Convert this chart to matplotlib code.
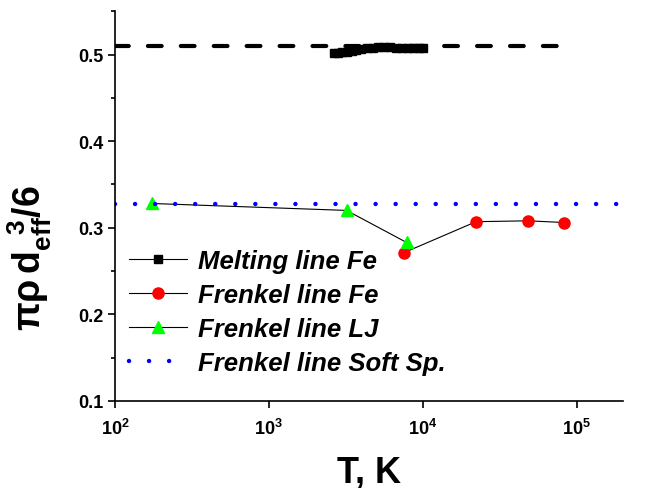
import matplotlib.pyplot as plt
import matplotlib.ticker as mticker

plt.rcParams['font.family'] = ['Liberation Sans', 'DejaVu Sans']
plt.rcParams['mathtext.fontset'] = 'custom'
plt.rcParams['mathtext.rm'] = 'Liberation Sans:bold'
plt.rcParams['mathtext.bf'] = 'Liberation Sans:bold'
plt.rcParams['mathtext.it'] = 'Liberation Sans:bold'

# melting line of Fe (simulation points) and its average level
melt_T = [2650, 2800, 3000, 3200, 3450, 3700, 4000, 4350, 4750, 5150, 5600,
          6100, 6700, 7300, 8000, 8700, 9400, 10100]
melt_y = [0.502, 0.502, 0.503, 0.503, 0.504, 0.505, 0.506, 0.507, 0.508, 0.509,
          0.509, 0.509, 0.508, 0.508, 0.508, 0.507, 0.507, 0.507]
melt_level = 0.51
melt_level_T = [100, 80000]

# Frenkel line Fe
fe_T = [7500, 22200, 48500, 83000]
fe_y = [0.271, 0.307, 0.308, 0.306]

# Frenkel line LJ
lj_T = [175, 3200, 7850]
lj_y = [0.328, 0.320, 0.283]

# Frenkel line soft spheres
soft_level = 0.327
soft_T = [100, 200000]

fig = plt.figure(figsize=(6.49, 4.89), dpi=100)
ax = fig.add_axes([0.177, 0.178, 0.783, 0.797])

ax.plot(melt_level_T, [melt_level] * 2, color='black', lw=3,
        dashes=(3.3, 4.6), dash_capstyle='round')
ax.plot(melt_T, melt_y, color='black', lw=0.8, marker='s', ms=6,
        label='Melting line Fe')
ax.plot(fe_T, fe_y, color='black', lw=0.8, marker='o', ms=8,
        mfc='#ff0000', mec='#ff0000', label='Frenkel line Fe')
ax.plot(lj_T, lj_y, color='black', lw=0.8, marker='^', ms=8,
        mfc='#00ff00', mec='#00ff00', label='Frenkel line LJ')
ax.plot(soft_T, [soft_level] * 2, color='#0000ff', lw=3.2,
        dashes=(0.01, 4.5), dash_capstyle='round', label='Frenkel line Soft Sp.')

ax.set_xscale('log')
ax.set_xlim(100, 200000)
ax.set_ylim(0.1, 0.55)

ax.spines['top'].set_visible(False)
ax.spines['right'].set_visible(False)
ax.spines['left'].set_linewidth(1.2)
ax.spines['bottom'].set_linewidth(1.2)

ax.set_yticks([0.1, 0.2, 0.3, 0.4, 0.5])
ax.yaxis.set_minor_locator(mticker.MultipleLocator(0.05))
ax.yaxis.set_major_formatter(mticker.FormatStrFormatter('%.1f'))
ax.set_xticks([1e2, 1e3, 1e4, 1e5])
ax.set_xticklabels([r'$\mathbf{10^{2}}$', r'$\mathbf{10^{3}}$',
                    r'$\mathbf{10^{4}}$', r'$\mathbf{10^{5}}$'])
ax.xaxis.set_minor_locator(mticker.NullLocator())
ax.tick_params(axis='both', which='major', direction='out', length=5,
               width=1.2, labelsize=13)
ax.tick_params(axis='x', which='major', pad=7)
ax.tick_params(axis='y', which='minor', direction='out', length=3, width=1.2)
for lab in ax.get_yticklabels():
    lab.set_fontweight('bold')

ax.set_xlabel('T, K', fontsize=26, fontweight='bold', labelpad=12)
ax.set_ylabel(r'$\pi\rho\,\mathbf{d}_{eff}^{\ \ 3}/6$', fontsize=27)
ax.yaxis.set_label_coords(-0.12, 0.37)

leg = ax.legend(loc='upper left', bbox_to_anchor=(0.0, 0.425), frameon=False,
                prop={'size': 18.5, 'weight': 'bold', 'style': 'italic'},
                handlelength=2.25, handletextpad=0.45, labelspacing=0.38,
                borderaxespad=0.15)

fig.savefig('out.png', dpi=100)
